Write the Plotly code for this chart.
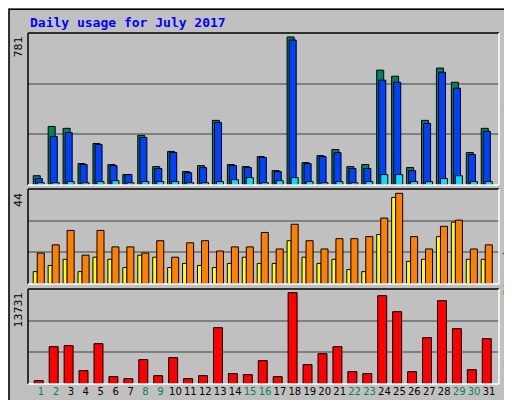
import plotly.graph_objects as go

days = list(range(1, 32))
weekend = [1, 2, 8, 9, 15, 16, 22, 23, 29, 30]

hits = [49, 309, 299, 113, 219, 108, 55, 262, 97, 177, 71, 102, 341, 108, 97, 150,
        76, 781, 118, 155, 187, 97, 108, 606, 574, 92, 341, 617, 542, 171, 299]
files = [34, 256, 277, 108, 214, 102, 55, 251, 87, 171, 65, 92, 330, 102, 92, 145,
         71, 765, 113, 150, 171, 87, 87, 553, 542, 76, 325, 595, 511, 161, 283]
pages = [12, 12, 18, 12, 18, 23, 12, 18, 18, 18, 12, 12, 18, 28, 39, 12,
         23, 39, 18, 12, 18, 12, 18, 55, 55, 18, 18, 34, 49, 18, 18]
visits = [6, 9, 12, 6, 13, 12, 8, 14, 13, 8, 10, 9, 8, 10, 13, 10,
          10, 21, 13, 10, 12, 7, 6, 24, 42, 11, 12, 23, 30, 12, 12]
sites = [15, 19, 26, 14, 26, 18, 18, 15, 21, 13, 20, 21, 16, 18, 18, 25,
         17, 29, 21, 17, 22, 22, 23, 32, 44, 23, 17, 28, 31, 17, 19]
kbytes = [501, 5612, 5762, 2004, 6062, 1102, 802, 3657, 1253, 3958, 802, 1253, 8467,
          1553, 1403, 3507, 1102, 13731, 2906, 4559, 5612, 1854, 1553, 13277, 10872,
          1854, 6964, 12525, 8317, 2154, 6814]

BG = "#C0C0C0"
fig = go.Figure()


def bars(y, color, offset, width, axis):
    fig.add_trace(go.Bar(
        x=days, y=y, offset=offset, width=width,
        marker=dict(color=color, line=dict(color="black", width=1)),
        xaxis="x" if axis == 1 else "x%d" % axis,
        yaxis="y" if axis == 1 else "y%d" % axis,
        hoverinfo="y",
    ))


bars(hits, "#00805C", -0.52, 0.47, 1)
bars(files, "#0040FF", -0.38, 0.47, 1)
bars(pages, "#00E0FF", -0.25, 0.47, 1)
bars(visits, "#FFFF00", -0.52, 0.27, 2)
bars(sites, "#FF8000", -0.25, 0.47, 2)
bars(kbytes, "#FF0000", -0.45, 0.6, 3)

xr = [0.13, 31.67]
xd = [20 / 512, 491 / 512]
ydoms = [[0.5575, 0.9375], [0.31, 0.5475], [0.06, 0.2975]]
ranges = [802, 46.1, 14282]
maxes = [781, 44, 13731]

layout = dict(
    width=512, height=400, margin=dict(l=0, r=0, t=0, b=0),
    paper_bgcolor=BG, plot_bgcolor=BG, showlegend=False, barmode="overlay",
    font=dict(family="DejaVu Sans Mono", size=11, color="black"),
)
ticktext = ['<span style="color:%s">%d</span>' % ("#00805C" if d in weekend else "black", d)
            for d in days]
for i in range(3):
    sx = "" if i == 0 else str(i + 1)
    r = ranges[i]
    layout["xaxis" + sx] = dict(
        domain=xd, range=xr, anchor="y" + sx, showgrid=False, zeroline=False,
        tickmode="array", tickvals=days, ticktext=ticktext if i == 2 else None,
        showticklabels=(i == 2), ticks="", tickangle=0,
        tickfont=dict(size=10, family="DejaVu Sans"),
    )
    layout["yaxis" + sx] = dict(
        domain=ydoms[i], range=[0, r], anchor="x" + sx, tickmode="array",
        tickvals=[r / 3, 2 * r / 3], showticklabels=False, gridcolor="#808080",
        gridwidth=1.5, zeroline=False,
    )
fig.update_layout(**layout)

shapes = [dict(type="rect", xref="paper", yref="paper", x0=0.002, x1=0.998, y0=0.003,
               y1=0.997, line=dict(color="black", width=1.5))]
for i, (y0, y1) in enumerate(ydoms):
    for (a, b, c, d, col) in [(xd[0], y1, xd[1], y1, "black"), (xd[0], y0, xd[0], y1, "black"),
                              (xd[0], y0, xd[1], y0, "white"), (xd[1], y0, xd[1], y1, "white")]:
        shapes.append(dict(type="line", xref="paper", yref="paper", x0=a, y0=b, x1=c, y1=d,
                           line=dict(color=col, width=1.5)))
fig.update_layout(shapes=shapes)

ann = [dict(text="<b>Daily usage for July 2017</b>", x=20 / 512, y=1 - 15 / 400,
            xref="paper", yref="paper", xanchor="left", yanchor="middle", showarrow=False,
            font=dict(color="#0000FF", size=13, family="DejaVu Sans Mono"))]
for i in range(3):
    ann.append(dict(text=str(maxes[i]), x=10 / 512, y=ydoms[i][1] - 0.005, xref="paper",
                    yref="paper", xanchor="center", yanchor="top", textangle=-90,
                    showarrow=False, font=dict(size=11, family="DejaVu Sans")))

# right-hand legend words, stacked top to bottom in pixels
right = [
    [("Hits", "#00805C"), ("/", "black"), ("Files", "#0040FF"), ("/", "black"), ("Pages", "#00E0FF")],
    [("Visits", "#FFFF00"), ("/", "black"), ("Sites", "#FF8000")],
    [("KBytes", "#FF0000")],
]
starts = [28, 198, 322]
for i in range(3):
    ypx = starts[i]
    for word, col in right[i]:
        h = len(word) * 6.7 + 4
        ann.append(dict(text=word, x=500 / 512, y=1 - (ypx + h / 2) / 400, xref="paper",
                        yref="paper", xanchor="center", yanchor="middle", textangle=-90,
                        showarrow=False, font=dict(size=11, color=col, family="DejaVu Sans Mono")))
        ypx += h
fig.update_layout(annotations=ann)

fig.write_html("out.html")
